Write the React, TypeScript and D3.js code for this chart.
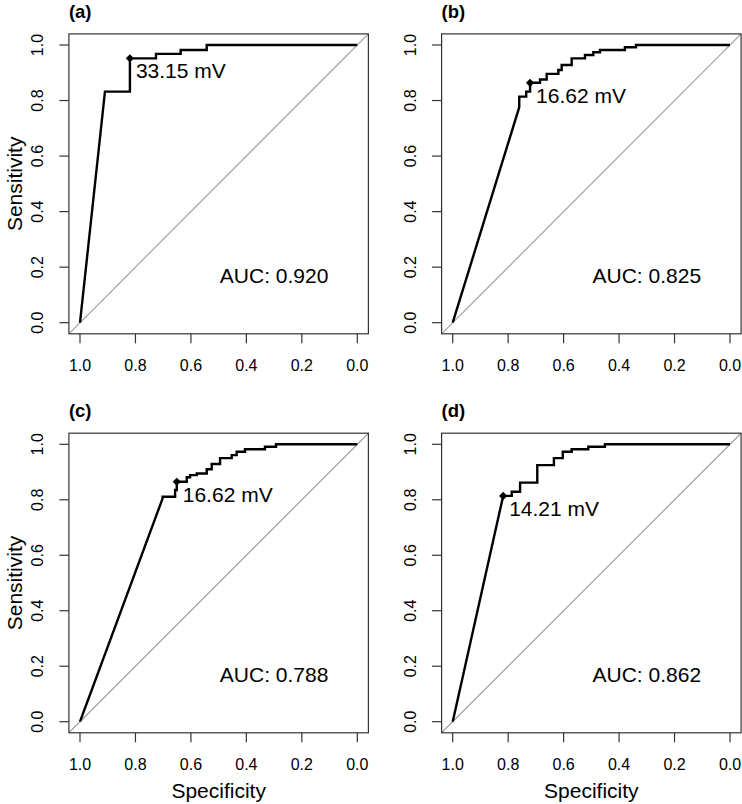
import React from 'react';
import * as d3 from 'd3';

// ROC curve vertices: specificity (x, reversed) and sensitivity (y)
const specA = [1, 0.910, 0.820, 0.820, 0.726, 0.726, 0.637, 0.637, 0.543, 0.543, 0];
const sensA = [0, 0.832, 0.832, 0.952, 0.952, 0.968, 0.968, 0.982, 0.982, 1.0, 1.0];

const specB = [1, 0.760, 0.760, 0.735, 0.735, 0.721, 0.721, 0.685, 0.685, 0.661, 0.661, 0.619, 0.619, 0.607, 0.607,
    0.571, 0.571, 0.523, 0.523, 0.493, 0.493, 0.469, 0.469, 0.379, 0.379, 0.339, 0.339, 0];
const sensB = [0, 0.776, 0.814, 0.814, 0.832, 0.832, 0.864, 0.864, 0.876, 0.876, 0.896, 0.896, 0.910, 0.910, 0.928,
    0.928, 0.952, 0.952, 0.964, 0.964, 0.974, 0.974, 0.982, 0.982, 0.992, 0.992, 1.0, 1.0];

const specC = [1, 0.702, 0.702, 0.657, 0.657, 0.651, 0.651, 0.615, 0.615, 0.603, 0.603, 0.579, 0.579, 0.543, 0.543,
    0.525, 0.525, 0.495, 0.495, 0.453, 0.453, 0.435, 0.435, 0.405, 0.405, 0.333, 0.333, 0.293, 0.293, 0];
const sensC = [0, 0.805, 0.811, 0.811, 0.835, 0.835, 0.865, 0.865, 0.881, 0.881, 0.889, 0.889, 0.895, 0.895, 0.910,
    0.910, 0.929, 0.929, 0.950, 0.950, 0.961, 0.961, 0.973, 0.973, 0.982, 0.982, 0.991, 0.991, 1.0, 1.0];

const specD = [1, 0.818, 0.787, 0.787, 0.757, 0.757, 0.695, 0.695, 0.635, 0.635, 0.603, 0.603, 0.571, 0.571,
    0.511, 0.511, 0.451, 0.451, 0];
const sensD = [0, 0.814, 0.814, 0.829, 0.829, 0.862, 0.862, 0.925, 0.925, 0.950, 0.950, 0.973, 0.973, 0.982,
    0.982, 0.991, 0.991, 1.0, 1.0];

// best threshold points
const thresholdSpec = [0.820, 0.721, 0.651, 0.818];
const thresholdSens = [0.952, 0.864, 0.865, 0.814];
const thresholdLabels = ['33.15 mV', '16.62 mV', '16.62 mV', '14.21 mV'];

const aucLabels = ['AUC: 0.920', 'AUC: 0.825', 'AUC: 0.788', 'AUC: 0.862'];
const panelLabels = ['(a)', '(b)', '(c)', '(d)'];
const tickValues = [0, 0.2, 0.4, 0.6, 0.8, 1.0];

const FONT = '"Liberation Sans", Arial, Helvetica, sans-serif';
const AXIS_COLOR = '#333';

const PANELS = [
    { spec: specA, sens: sensA, col: 0, row: 0 },
    { spec: specB, sens: sensB, col: 1, row: 0 },
    { spec: specC, sens: sensC, col: 0, row: 1 },
    { spec: specD, sens: sensD, col: 1, row: 1 },
];

function Panel({ index, spec, sens, col, row })
{
    const xRange = col === 0 ? [80, 357.3] : [452.7, 730];
    const yRange = row === 0 ? [322.7, 45] : [721.7, 444.3];

    const x = d3.scaleLinear().domain([1, 0]).range(xRange);
    const y = d3.scaleLinear().domain([0, 1]).range(yRange);

    const x0 = x(1.04);
    const x1 = x(-0.04);
    const y0 = y(-0.04);
    const y1 = y(1.04);

    const points = spec.map((s, i) => [s, sens[i]]);
    const line = d3.line().x((d) => x(d[0])).y((d) => y(d[1]));

    const diamond = d3.symbol(d3.symbolSquare, 34)();
    const tx = x(thresholdSpec[index]);
    const ty = y(thresholdSens[index]);
    const clipId = `clip-${ index }`;

    return (
        <g>
            <defs>
                <clipPath id={ clipId }>
                    <rect x={ x0 } y={ y1 } width={ x1 - x0 } height={ y0 - y1 } />
                </clipPath>
            </defs>
            <text x={ x0 } y={ y1 - 16 } fontFamily={ FONT } fontWeight="bold" fontSize={ 18.5 } fill="#000">
                { panelLabels[index] }
            </text>

            <line
                x1={ x(1.04) } y1={ y(-0.04) } x2={ x(-0.04) } y2={ y(1.04) }
                stroke="#a0a0a0" strokeWidth={ 1.2 } clipPath={ `url(#${ clipId })` }
            />
            <path d={ line(points) } fill="none" stroke="#000" strokeWidth={ 2.4 } strokeLinejoin="miter" />
            <path d={ diamond } transform={ `translate(${ tx },${ ty }) rotate(45)` } fill="#000" />
            <text x={ tx + 6 } y={ ty + 20 } fontFamily={ FONT } fontSize={ 21 } fill="#000">
                { thresholdLabels[index] }
            </text>
            <text x={ x(0.30) } y={ y(0.142) } textAnchor="middle" fontFamily={ FONT } fontSize={ 21 } fill="#000">
                { aucLabels[index] }
            </text>

            <rect x={ x0 } y={ y1 } width={ x1 - x0 } height={ y0 - y1 } fill="none" stroke={ AXIS_COLOR } strokeWidth={ 1.2 } />

            { tickValues.map((t) => (
                <g key={ `x${ t }` }>
                    <line x1={ x(t) } x2={ x(t) } y1={ y0 } y2={ y0 + 9.5 } stroke={ AXIS_COLOR } strokeWidth={ 1.2 } />
                    <text x={ x(t) } y={ y0 + 37 } textAnchor="middle" fontFamily={ FONT } fontSize={ 16 } fill="#000">
                        { t.toFixed(1) }
                    </text>
                </g>
            )) }
            { tickValues.map((t) => (
                <g key={ `y${ t }` }>
                    <line x1={ x0 - 9.5 } x2={ x0 } y1={ y(t) } y2={ y(t) } stroke={ AXIS_COLOR } strokeWidth={ 1.2 } />
                    <text
                        transform={ `translate(${ x0 - 25.5 },${ y(t) }) rotate(-90)` }
                        textAnchor="middle" fontFamily={ FONT } fontSize={ 16 } fill="#000"
                    >
                        { t.toFixed(1) }
                    </text>
                </g>
            )) }

            { col === 0 && (
                <text
                    transform={ `translate(${ x0 - 47 },${ (yRange[0] + yRange[1]) / 2 }) rotate(-90)` }
                    textAnchor="middle" fontFamily={ FONT } fontSize={ 21 } fill="#000"
                >
                    Sensitivity
                </text>
            ) }
            { row === 1 && (
                <text x={ (xRange[0] + xRange[1]) / 2 } y={ 798 } textAnchor="middle" fontFamily={ FONT } fontSize={ 21 } fill="#000">
                    Specificity
                </text>
            ) }
        </g>
    );
}

export default function App()
{
    return (
        <div style={ { position: 'absolute', left: 0, top: 0 } }>
            <svg width={ 742 } height={ 804 } style={ { display: 'block', background: '#fff' } }>
                { PANELS.map((p, i) => (
                    <Panel key={ i } index={ i } { ...p } />
                )) }
            </svg>
        </div>
    );
}
